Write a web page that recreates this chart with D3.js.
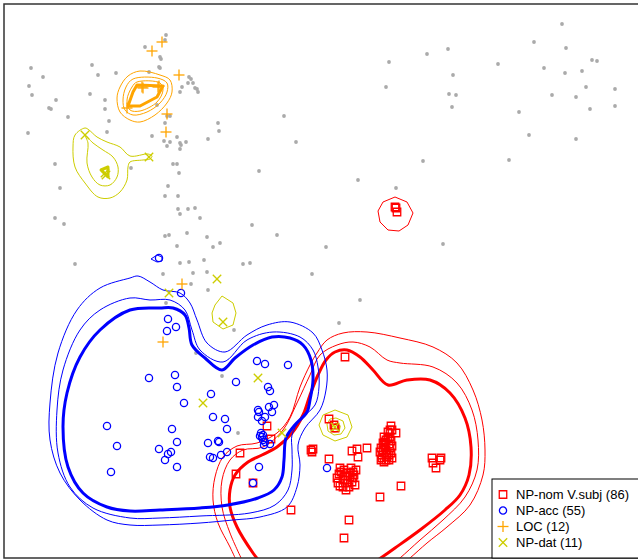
<!DOCTYPE html>
<html>
<head>
<meta charset="utf-8">
<script src="https://cdn.jsdelivr.net/npm/d3@7"></script>
<style>
  body { margin: 0; background: #fff; }
  svg { display: block; font-family: "Liberation Sans", Arial, sans-serif; }
</style>
</head>
<body>
<div id="chart"></div>
<script>
// MDS-like map: all tokens (grey) plus four highlighted construction types
var others = [[-1.55,2.46],[-1.56,2.41],[-1.76,2.34],[-1.61,2.24],[-1.60,2.22],[-2.90,2.13],[-2.29,2.16],
  [-1.62,2.14],[-1.61,2.13],[-2.78,2.04],[-2.23,2.06],[-2.05,2.08],[-1.72,2.09],[-1.32,2.04],[-1.30,2.02],
  [-1.33,1.98],[-1.28,1.98],[-1.24,1.92],[-1.23,1.89],[-1.26,1.93],[-1.39,1.94],[-1.41,1.89],[-2.92,1.95],
  [-2.89,1.86],[-2.31,1.87],[-2.65,1.81],[-2.16,1.81],[-2.72,1.73],[-2.70,1.72],[-2.16,1.72],[-1.64,1.76],
  [-2.53,1.64],[-2.12,1.60],[-1.51,1.65],[-1.54,1.65],[-1.56,1.58],[-1.03,1.58],[-0.37,1.65],[-2.93,1.48],
  [-2.14,1.49],[-1.02,1.50],[-1.69,1.45],[-1.44,1.44],[-1.13,1.42],[-1.57,1.40],[-1.51,1.39],[-1.41,1.38],
  [-1.35,1.39],[-1.40,1.36],[-1.54,1.35],[-1.41,1.32],[-0.25,1.39],[-1.48,1.17],[-1.44,1.17],[-1.90,1.13],
  [-2.66,1.17],[-1.42,1.08],[-0.62,1.10],[-2.61,0.93],[-1.53,0.95],[-1.56,0.85],[-1.43,0.85],[-1.43,0.72],
  [-1.41,0.67],[-1.33,0.72],[-1.26,0.73],[-1.21,0.63],[-2.66,0.63],[-2.57,0.57],[-0.69,0.56],[-1.34,0.48],
  [-1.56,0.45],[-1.52,0.46],[-1.14,0.44],[-0.44,0.46],[-1.01,0.38],[-1.08,0.34],[-1.44,0.35],[-2.46,0.17],
  [-1.41,0.18],[-1.32,0.19],[-1.17,0.21],[-0.78,0.17],[-0.71,0.18],[-1.58,0.07],[-1.28,0.08],[-1.14,0.09],
  [-0.09,0.07],[-1.30,-0.03],[-1.13,-0.09],[-1.55,-0.22],[-0.87,-0.49],[-1.25,-0.72],[-0.99,-0.95],
  [-0.83,-1.52],[0.18,-0.42],[0.39,-0.19],[0.05,0.34],[1.22,0.37],[0.37,1.01],[0.75,0.93],[1.02,1.20],
  [1.88,1.21],[2.08,1.46],[2.55,1.42],[1.98,1.69],[2.69,1.72],[2.94,1.75],[1.31,1.74],[1.28,1.87],
  [1.35,1.86],[2.31,1.86],[2.55,1.84],[2.65,1.94],[2.94,1.92],[0.65,1.94],[1.32,2.06],[2.44,2.08],
  [2.61,2.10],[2.23,2.13],[1.77,2.17],[0.68,2.19],[2.71,2.21],[2.76,2.20],[1.06,2.27],[1.27,2.32],
  [2.45,2.33],[2.13,2.39],[2.41,2.57]]

var npNom = [[0.24,-0.76],[0.08,-1.38],[0.14,-1.47],[-0.54,-1.45],[-0.50,-1.58],[-0.81,-1.72],[-0.10,-1.69],
  [-0.09,-1.71],[0.08,-1.78],[0.31,-1.70],[0.36,-1.68],[0.46,-1.67],[0.37,-1.76],[-0.85,-1.93],[-0.68,-2.02],
  [-0.30,-2.29],[0.28,-2.39],[0.23,-2.57],[0.59,-2.16],[0.80,-2.05],[1.11,-1.77],[1.19,-1.79],[1.12,-1.82],
  [1.15,-1.87],[0.74,0.74],[0.76,0.69],[0.70,-1.45],[0.71,-1.49],[0.75,-1.52],[0.62,-1.62],[0.64,-1.61],
  [0.67,-1.57],[0.69,-1.56],[0.60,-1.67],[0.65,-1.69],[0.69,-1.67],[0.61,-1.74],[0.66,-1.76],[0.71,-1.77],
  [0.63,-1.81],[0.68,-1.79],[0.61,-1.77],[0.66,-1.72],[0.70,-1.72],[0.64,-1.66],[0.62,-1.69],[0.68,-1.63],
  [0.63,-1.56],[0.70,-1.60],[0.65,-1.79],[0.59,-1.71],[0.67,-1.51],[0.19,-1.87],[0.20,-1.91],[0.16,-1.97],
  [0.17,-2.02],[0.22,-2.06],[0.26,-1.92],[0.29,-1.96],[0.32,-1.91],[0.31,-2.01],[0.26,-2.02],[0.28,-2.06],
  [0.22,-1.99],[0.32,-1.97],[0.35,-1.89],[0.24,-1.95],[0.30,-1.87],[0.25,-2.09],[0.34,-2.04],[0.18,-1.93],
  [0.27,-1.99],[-0.08,-1.68],[0.13,-1.44],[1.20,-1.77],[0.75,0.73],[0.69,-1.49],[0.63,-1.64],[0.71,-1.65],
  [0.65,-1.59],[0.60,-1.79],[0.29,-1.92],[0.23,-1.89],[0.19,-2.05],[0.33,-1.94],[0.68,-1.74]]

var npAcc = [[-1.62,0.23],[-1.40,-0.12],[-1.53,-0.38],[-1.54,-0.50],[-1.45,-0.46],[-1.72,-0.97],[-1.46,-0.94],
  [-1.44,-1.06],[-1.37,-1.22],[-1.10,-1.13],[-0.85,-1.01],[-0.64,-0.80],[-0.56,-0.83],[-0.33,-0.84],
  [-0.53,-1.06],[-0.51,-1.10],[-1.08,-1.36],[-0.96,-1.38],[-0.94,-1.48],[-0.63,-1.29],[-0.62,-1.31],
  [-0.52,-1.26],[-0.47,-1.24],[-0.49,-1.31],[-0.63,-1.36],[-0.56,-1.36],[-0.59,-1.40],[-2.14,-1.45],
  [-1.49,-1.48],[-0.58,-1.54],[-0.59,-1.56],[-0.58,-1.59],[-0.61,-1.55],[-0.56,-1.61],[-0.51,-1.63],
  [-0.57,-1.64],[-2.04,-1.65],[-1.62,-1.68],[-1.44,-1.61],[-1.13,-1.62],[-1.03,-1.60],[-1.02,-1.61],
  [-1.50,-1.71],[-1.53,-1.73],[-1.56,-1.79],[-0.94,-1.71],[-1.00,-1.74],[-1.11,-1.76],[-1.08,-1.77],
  [-1.44,-1.86],[-2.10,-1.91],[-0.62,-1.86],[-0.68,-2.02],[0.06,-1.87],[-0.60,-1.52]]

var loc = [[-1.59,2.39],[-1.69,2.30],[-1.42,2.06],[-1.79,1.94],[-1.78,1.93],[-1.63,1.94],[-1.62,1.95],
  [-1.94,1.73],[-1.54,1.67],[-1.55,1.49],[-1.39,-0.03],[-1.58,-0.61]]

var npDat = [[-2.36,1.46],[-1.72,1.24],[-2.16,1.08],[-2.15,1.06],[-1.04,0.02],[-1.52,-0.12],[-0.98,-0.41],
  [-0.63,-0.97],[-1.18,-1.22],[-0.39,-1.52],[0.14,-1.46]]

// density contour lines (outer to inner)
var nomOuter = [[-0.84,-2.81],[-0.91,-2.66],[-1.03,-2.42],[-1.08,-2.19],[-1.06,-1.96],[-0.98,-1.76],[-0.84,-1.65],
  [-0.64,-1.62],[-0.44,-1.52],[-0.31,-1.36],[-0.21,-1.06],[-0.11,-0.84],[-0.04,-0.72],[0.06,-0.59],[0.22,-0.52],
  [0.46,-0.51],[0.79,-0.57],[1.12,-0.66],[1.36,-0.82],[1.52,-1.09],[1.61,-1.39],[1.64,-1.69],[1.62,-1.94],
  [1.49,-2.24],[1.26,-2.46],[1.06,-2.62],[0.89,-2.77],[0.79,-2.85]]
var nomMiddle = [[-0.78,-2.81],[-0.91,-2.52],[-0.99,-2.26],[-0.99,-1.99],[-0.91,-1.79],[-0.78,-1.69],[-0.58,-1.66],
  [-0.38,-1.49],[-0.24,-1.22],[-0.11,-0.94],[-0.01,-0.74],[0.16,-0.64],[0.32,-0.61],[0.49,-0.66],[0.66,-0.79],
  [0.79,-0.82],[1.12,-0.86],[1.36,-1.02],[1.51,-1.29],[1.57,-1.59],[1.56,-1.89],[1.44,-2.16],[1.22,-2.39],
  [0.99,-2.59],[0.79,-2.77],[0.69,-2.85]]
var nomInner = [[-0.61,-2.81],[-0.68,-2.72],[-0.84,-2.46],[-0.91,-2.26],[-0.91,-2.09],[-0.86,-1.94],[-0.73,-1.81],
  [-0.59,-1.74],[-0.44,-1.66],[-0.29,-1.52],[-0.18,-1.34],[-0.11,-1.14],[-0.03,-0.94],[0.05,-0.79],[0.14,-0.71],
  [0.26,-0.69],[0.39,-0.76],[0.52,-0.89],[0.67,-1.04],[0.86,-0.99],[1.09,-0.99],[1.29,-1.12],[1.44,-1.37],
  [1.50,-1.66],[1.48,-1.94],[1.39,-2.14],[1.24,-2.29],[0.99,-2.49],[0.74,-2.67],[0.54,-2.81]]
var nomIsland = [[0.74,0.84],[0.86,0.79],[0.92,0.68],[0.87,0.56],[0.78,0.50],[0.67,0.51],[0.59,0.59],[0.57,0.70],[0.62,0.79]]

var accOuter = [[-1.91,0.03],[-1.83,0.05],[-1.71,-0.01],[-1.58,-0.09],[-1.41,-0.12],[-1.31,-0.22],[-1.24,-0.39],
  [-1.14,-0.62],[-0.96,-0.71],[-0.74,-0.54],[-0.54,-0.44],[-0.31,-0.41],[-0.08,-0.52],[0.01,-0.69],[0.06,-0.89],
  [0.05,-1.09],[-0.01,-1.29],[-0.16,-1.47],[-0.23,-1.64],[-0.21,-1.84],[-0.24,-2.06],[-0.34,-2.26],[-0.61,-2.36],
  [-0.88,-2.39],[-1.21,-2.42],[-1.61,-2.44],[-1.91,-2.44],[-2.14,-2.39],[-2.41,-2.19],[-2.61,-1.92],[-2.71,-1.59],
  [-2.71,-1.22],[-2.63,-0.72],[-2.44,-0.29],[-2.21,-0.07]]
var accMiddle = [[-1.91,-0.17],[-1.71,-0.19],[-1.51,-0.19],[-1.36,-0.29],[-1.29,-0.49],[-1.21,-0.69],[-0.98,-0.81],
  [-0.74,-0.59],[-0.48,-0.51],[-0.21,-0.56],[-0.08,-0.69],[-0.03,-0.86],[-0.02,-1.06],[-0.06,-1.24],[-0.21,-1.39],
  [-0.29,-1.54],[-0.29,-1.69],[-0.29,-1.89],[-0.33,-2.09],[-0.46,-2.24],[-0.71,-2.32],[-1.21,-2.35],[-1.61,-2.37],
  [-1.91,-2.37],[-2.28,-2.27],[-2.51,-2.06],[-2.63,-1.72],[-2.64,-1.29],[-2.58,-0.89],[-2.41,-0.49],[-2.21,-0.29]]
var accInner = [[-1.61,-0.27],[-1.48,-0.27],[-1.36,-0.34],[-1.32,-0.47],[-1.29,-0.64],[-1.16,-0.77],[-0.99,-0.89],
  [-0.86,-0.77],[-0.68,-0.64],[-0.49,-0.56],[-0.31,-0.57],[-0.18,-0.64],[-0.10,-0.79],[-0.08,-0.99],[-0.11,-1.19],
  [-0.14,-1.31],[-0.27,-1.45],[-0.35,-1.57],[-0.37,-1.79],[-0.39,-1.96],[-0.47,-2.09],[-0.63,-2.17],[-0.93,-2.24],
  [-1.21,-2.27],[-1.61,-2.29],[-1.91,-2.30],[-2.14,-2.26],[-2.38,-2.12],[-2.53,-1.86],[-2.58,-1.46],[-2.54,-1.12],
  [-2.41,-0.76],[-2.21,-0.49],[-1.91,-0.29]]
var accIsland = [[-1.70,0.22],[-1.64,0.26],[-1.59,0.24],[-1.59,0.20],[-1.64,0.19]]

var locOuter = [[-1.81,2.10],[-1.61,2.06],[-1.51,2.01],[-1.49,1.89],[-1.54,1.78],[-1.66,1.66],[-1.81,1.59],
  [-1.91,1.61],[-2.01,1.69],[-2.04,1.83],[-2.01,1.94],[-1.93,2.05]]
var locMiddle = [[-1.88,2.02],[-1.64,2.03],[-1.54,1.98],[-1.54,1.89],[-1.61,1.78],[-1.74,1.69],[-1.88,1.66],
  [-1.96,1.71],[-1.98,1.81],[-1.95,1.94]]
var locThird = [[-1.84,1.99],[-1.61,1.98],[-1.58,1.91],[-1.64,1.79],[-1.81,1.70],[-1.91,1.71],[-1.94,1.81],[-1.89,1.94]]
var locInner = [[-1.84,1.96],[-1.58,1.95],[-1.64,1.84],[-1.81,1.75],[-1.93,1.75],[-1.88,1.89]]

var datOuter = [[-2.36,1.53],[-2.46,1.46],[-2.48,1.34],[-2.46,1.14],[-2.36,0.98],[-2.23,0.84],[-2.11,0.83],
  [-2.01,0.89],[-1.94,1.01],[-1.93,1.14],[-1.91,1.19],[-1.78,1.21],[-1.71,1.22],[-1.69,1.25],[-1.73,1.27],
  [-1.91,1.25],[-2.01,1.34],[-2.14,1.39],[-2.24,1.44],[-2.32,1.51]]
var datMiddle = [[-2.36,1.46],[-2.33,1.38],[-2.34,1.18],[-2.29,1.04],[-2.21,0.96],[-2.11,0.96],[-2.04,1.04],
  [-2.03,1.14],[-2.08,1.24],[-2.18,1.31],[-2.28,1.38]]
var datInner = [[-2.20,1.11],[-2.13,1.14],[-2.13,1.04]]
var datSmall = [[-0.99,-0.15],[-0.88,-0.22],[-0.85,-0.32],[-0.88,-0.44],[-0.98,-0.48],[-1.08,-0.41],[-1.09,-0.32],[-1.06,-0.24]]
var datRing1 = [[0.14,-1.29],[0.27,-1.34],[0.31,-1.46],[0.26,-1.56],[0.14,-1.60],[0.02,-1.54],[-0.02,-1.44],[0.02,-1.34]]
var datRing2 = [[0.15,-1.37],[0.22,-1.40],[0.24,-1.47],[0.20,-1.53],[0.13,-1.54],[0.07,-1.50],[0.06,-1.43],[0.09,-1.38]]
var datRing3 = [[0.15,-1.42],[0.19,-1.45],[0.18,-1.50],[0.13,-1.51],[0.10,-1.47]]

var legendLabels = ['NP-nom V.subj (86)', 'NP-acc (55)', 'LOC (12)', 'NP-dat (11)']
var colors = {nom:'#ff0000', acc:'#0000ff', loc:'#ffa500', dat:'#cdcd00', grey:'#aaaaaa'}

var W = 638, H = 560
var svg = d3.select('#chart').append('svg').attr('width', W).attr('height', H)

var x = d3.scaleLinear().domain([-3.17, 3.17]).range([4, 638])
var y = d3.scaleLinear().domain([-2.77, 2.77]).range([558, 4])

svg.append('defs').append('clipPath').attr('id','plotclip')
  .append('rect').attr('x',4).attr('y',4).attr('width',636).attr('height',554)

var plot = svg.append('g').attr('clip-path','url(#plotclip)')

// grey background tokens
plot.append('g').selectAll('circle').data(others).enter().append('circle')
  .attr('cx', function(d){ return x(d[0]) }).attr('cy', function(d){ return y(d[1]) })
  .attr('r', 1.9).attr('fill', colors.grey)

// contours
var closedLine = d3.line().x(function(d){ return x(d[0]) }).y(function(d){ return y(d[1]) })
  .curve(d3.curveCatmullRomClosed.alpha(0.5))
var polyLine = d3.line().x(function(d){ return x(d[0]) }).y(function(d){ return y(d[1]) })
  .curve(d3.curveLinearClosed)
var openLine = d3.line().x(function(d){ return x(d[0]) }).y(function(d){ return y(d[1]) })
  .curve(d3.curveCatmullRom.alpha(0.5))

var contours = [
  {pts:nomOuter, c:colors.nom, w:1, gen:openLine},
  {pts:nomMiddle, c:colors.nom, w:1, gen:openLine},
  {pts:nomInner, c:colors.nom, w:3, gen:openLine},
  {pts:nomIsland, c:colors.nom, w:1, gen:polyLine},
  {pts:accOuter, c:colors.acc, w:1, gen:closedLine},
  {pts:accMiddle, c:colors.acc, w:1, gen:closedLine},
  {pts:accInner, c:colors.acc, w:3, gen:closedLine},
  {pts:accIsland, c:colors.acc, w:1, gen:polyLine},
  {pts:locOuter, c:colors.loc, w:1, gen:closedLine},
  {pts:locMiddle, c:colors.loc, w:1, gen:closedLine},
  {pts:locThird, c:colors.loc, w:1, gen:closedLine},
  {pts:locInner, c:colors.loc, w:3, gen:polyLine},
  {pts:datOuter, c:colors.dat, w:1, gen:closedLine},
  {pts:datMiddle, c:colors.dat, w:1, gen:closedLine},
  {pts:datInner, c:colors.dat, w:3, gen:polyLine},
  {pts:datSmall, c:colors.dat, w:1, gen:polyLine},
  {pts:datRing1, c:colors.dat, w:1, gen:polyLine},
  {pts:datRing2, c:colors.dat, w:1, gen:polyLine},
  {pts:datRing3, c:colors.dat, w:1.5, gen:polyLine}
]
plot.append('g').selectAll('path').data(contours).enter().append('path')
  .attr('d', function(d){ return d.gen(d.pts) })
  .attr('fill', 'none').attr('stroke', function(d){ return d.c })
  .attr('stroke-width', function(d){ return d.w }).attr('stroke-linejoin','round')

// highlighted tokens
var sq = d3.symbol().type(d3.symbolSquare).size(56)
var cross = d3.symbol().type(d3.symbolCross).size(1)

plot.append('g').selectAll('path').data(npNom).enter().append('path')
  .attr('d', sq).attr('transform', function(d){ return 'translate('+x(d[0])+','+y(d[1])+')' })
  .attr('fill','none').attr('stroke',colors.nom).attr('stroke-width',1.3)

plot.append('g').selectAll('circle').data(npAcc).enter().append('circle')
  .attr('cx', function(d){ return x(d[0]) }).attr('cy', function(d){ return y(d[1]) })
  .attr('r', 3.6).attr('fill','none').attr('stroke',colors.acc).attr('stroke-width',1.3)

function plus(g, s){
  g.append('line').attr('x1',-s).attr('x2',s).attr('y1',0).attr('y2',0)
  g.append('line').attr('y1',-s).attr('y2',s).attr('x1',0).attr('x2',0)
}
function times(g, s){
  g.append('line').attr('x1',-s).attr('x2',s).attr('y1',-s).attr('y2',s)
  g.append('line').attr('x1',-s).attr('x2',s).attr('y1',s).attr('y2',-s)
}

plot.append('g').attr('stroke',colors.loc).attr('stroke-width',1.3)
  .selectAll('g').data(loc).enter().append('g')
  .attr('transform', function(d){ return 'translate('+x(d[0])+','+y(d[1])+')' })
  .each(function(){ plus(d3.select(this), 5.5) })

plot.append('g').attr('stroke',colors.dat).attr('stroke-width',1.3)
  .selectAll('g').data(npDat).enter().append('g')
  .attr('transform', function(d){ return 'translate('+x(d[0])+','+y(d[1])+')' })
  .each(function(){ times(d3.select(this), 4.2) })

// frame
svg.append('rect').attr('x',4).attr('y',4).attr('width',640).attr('height',554)
  .attr('fill','none').attr('stroke','#333').attr('stroke-width',1.5)

// legend
var lg = svg.append('g').attr('transform','translate(492,479)')
lg.append('rect').attr('x',0).attr('y',0).attr('width',150).attr('height',79)
  .attr('fill','#fff').attr('stroke','#000').attr('stroke-width',1)
var row = function(i){ return 15.5 + i*16 }
var keys = ['nom','acc','loc','dat']
var items = lg.selectAll('g.item').data(legendLabels).enter().append('g')
  .attr('class','item').attr('transform', function(d,i){ return 'translate(11,'+row(i)+')' })
items.append('text').attr('x',13).attr('y',4.5).attr('font-size','13px').attr('fill','#000')
  .text(function(d){ return d })
items.each(function(d,i){
  var g = d3.select(this)
  var k = keys[i]
  if(k=='nom') g.append('path').attr('d',sq).attr('fill','none').attr('stroke',colors.nom).attr('stroke-width',1.3)
  if(k=='acc') g.append('circle').attr('r',3.6).attr('fill','none').attr('stroke',colors.acc).attr('stroke-width',1.3)
  if(k=='loc'){ var p = g.append('g').attr('stroke',colors.loc).attr('stroke-width',1.3); plus(p,5.5) }
  if(k=='dat'){ var t = g.append('g').attr('stroke',colors.dat).attr('stroke-width',1.3); times(t,4.2) }
})
</script>
</body>
</html>
